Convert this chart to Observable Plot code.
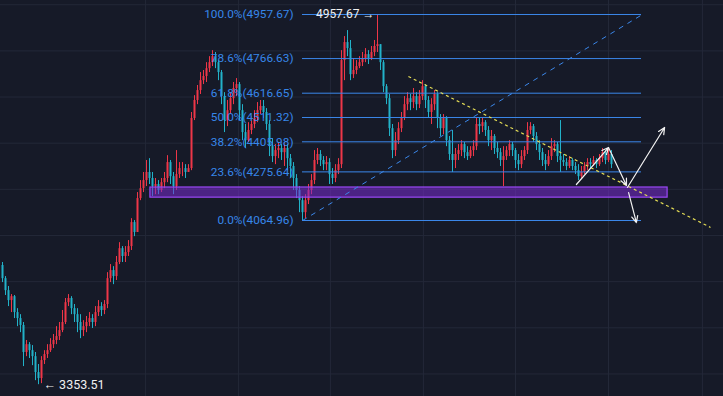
<!DOCTYPE html>
<html>
<head>
<meta charset="utf-8">
<script src="https://cdn.jsdelivr.net/npm/d3@7"></script>
<script src="https://cdn.jsdelivr.net/npm/@observablehq/plot@0.6"></script>
<style>
  html, body { margin: 0; padding: 0; background: #161a28; overflow: hidden; }
  #chart svg { display: block; }
</style>
</head>
<body>
<div id="chart"></div>
<script>
// ---- candle data (index order, open = previous close) ----
const firstOpen = 3870;
const closes = [
  3813,3761,3718,3735,3666,3640,3610,3493,3527,3501,
  3475,3406,3380,3458,3484,3501,3527,3545,3562,3588,
  3623,3709,3727,3683,3657,3623,3588,3605,3623,3640,
  3623,3666,3692,3675,3701,3813,3848,3822,3883,3943,
  3909,3926,3952,4056,4013,4160,4203,4238,4273,4247,
  4212,4221,4195,4229,4247,4316,4255,4212,4264,4290,
  4290,4273,4290,4507,4585,4628,4671,4689,4723,4749,
  4775,4749,4706,4602,4498,4541,4593,4637,4654,4541,
  4446,4411,4455,4481,4507,4541,4559,4533,4481,4385,
  4342,4368,4377,4359,4377,4333,4299,4247,4195,4151,
  4099,4151,4195,4238,4325,4351,4325,4307,4316,4264,
  4247,4281,4307,4758,4836,4810,4697,4715,4732,4749,
  4767,4784,4767,4793,4819,4827,4749,4645,4593,4463,
  4368,4411,4463,4507,4567,4593,4576,4602,4567,4602,
  4645,4585,4533,4567,4611,4507,4463,4507,4411,4351,
  4325,4351,4368,4394,4359,4342,4368,4385,4481,4472,
  4489,4455,4411,4429,4377,4359,4325,4342,4368,4394,
  4368,4325,4307,4342,4368,4455,4472,4429,4394,4359,
  4325,4307,4342,4385,4394,4342,4325,4316,4299,4325,
  4299,4281,4255,4273,4299,4316,4307,4325,4307,4333,
  4359,4325,4351,4307
];
const highs = [
  3883,3822,3779,3744,3740,3683,3657,3623,3545,3536,
  3523,3493,3441,3475,3501,3527,3553,3571,3605,3623,
  3675,3727,3744,3735,3701,3683,3657,3631,3649,3666,
  3657,3692,3718,3709,3718,3839,3874,3865,3909,3969,
  3952,3952,3978,4073,4065,4186,4238,4273,4325,4333,
  4273,4247,4238,4247,4273,4346,4325,4273,4368,4316,
  4316,4307,4307,4533,4606,4650,4706,4715,4749,4775,
  4801,4793,4758,4715,4619,4585,4619,4663,4680,4663,
  4567,4481,4489,4515,4541,4576,4585,4585,4550,4498,
  4420,4394,4403,4394,4403,4394,4351,4316,4264,4212,
  4169,4177,4221,4264,4368,4377,4368,4342,4342,4333,
  4290,4307,4333,4801,4862,4888,4845,4767,4758,4775,
  4793,4810,4801,4819,4845,4957.67,4827,4758,4654,4611,
  4481,4446,4489,4533,4602,4619,4611,4637,4619,4628,
  4671,4654,4602,4593,4628,4619,4524,4524,4515,4429,
  4455,4377,4394,4411,4403,4385,4385,4411,4507,4507,
  4507,4498,4472,4455,4437,4403,4377,4385,4385,4411,
  4403,4377,4351,4368,4385,4489,4489,4481,4446,4411,
  4377,4351,4368,4420,4411,4403,4498,4351,4333,4342,
  4333,4316,4307,4299,4316,4333,4333,4342,4333,4351,
  4377,4368,4377,4368
];
const lows = [
  3796,3740,3692,3666,3640,3605,3579,3432,3475,3467,
  3436,3371,3353.51,3358,3441,3467,3493,3510,3527,3545,
  3579,3614,3692,3657,3623,3579,3553,3562,3579,3605,
  3597,3605,3649,3649,3657,3683,3796,3787,3805,3874,
  3883,3883,3909,3935,3995,4013,4151,4186,4212,4221,
  4169,4177,4177,4186,4203,4229,4221,4177,4195,4247,
  4255,4247,4273,4281,4498,4567,4611,4654,4663,4706,
  4732,4723,4671,4567,4446,4472,4524,4567,4602,4498,
  4411,4377,4403,4437,4463,4489,4524,4507,4455,4342,
  4316,4307,4333,4325,4299,4281,4247,4195,4160,4099,
  4064.96,4073,4134,4177,4221,4307,4299,4281,4281,4221,
  4221,4229,4264,4290,4671,4775,4671,4680,4697,4723,
  4732,4749,4741,4758,4775,4793,4715,4619,4567,4429,
  4333,4342,4394,4446,4498,4541,4541,4550,4541,4550,
  4585,4550,4507,4481,4541,4463,4429,4437,4385,4325,
  4273,4290,4325,4342,4333,4325,4333,4342,4368,4437,
  4446,4429,4385,4368,4351,4333,4299,4212,4325,4342,
  4342,4290,4281,4290,4325,4351,4437,4403,4368,4325,
  4299,4281,4299,4325,4359,4316,4273,4299,4281,4290,
  4281,4264,4238,4247,4264,4281,4290,4299,4290,4299,
  4316,4307,4316,4290
];

// ---- Fibonacci retracement (from low to high) ----
const fibRatios = ["100.0%", "78.6%", "61.8%", "50.0%", "38.2%", "23.6%", "0.0%"];
const fibPrices = [4957.67, 4766.63, 4616.65, 4511.32, 4405.98, 4275.64, 4064.96];
const fibStartIndex = 100;   // candle of the 4064.96 low
const fibEndIndex = 213;

// ---- extreme price labels ----
const highLabel = { index: 125, price: 4957.67, text: "4957.67 →" };
const lowLabel = { index: 12, price: 3353.51, text: "← 3353.51" };

// ---- drawn annotations (index, price) ----
const trendDashed = [{ x1: 100, y1: 4064.96, x2: 213.3, y2: 4957.67 }];
const trendYellow = [{ x1: 135.3, y1: 4689, x2: 236, y2: 4035 }];
const supportZone = [{ x1: 49.3, x2: 221.7, y1: 4164, y2: 4208 }];
const arrowsX1 = [191.3, 202, 208.3, 208.7];
const arrowsY1 = [4221, 4381, 4208, 4186];
const arrowsX2 = [202, 208, 220.7, 211.3];
const arrowsY2 = [4381, 4217, 4468, 4056];

// ---- grid ----
const gridPrices = [3400, 3600, 3800, 4000, 4200, 4400, 4600, 4800, 5000];
const gridIndices = [47.7, 78.7, 109.3, 140.3, 171, 202, 233.3];

// build tables
const candles = closes.map((c, i) => {
  const o = i === 0 ? firstOpen : closes[i - 1];
  return { i, o, c, h: highs[i], l: lows[i], up: c >= o };
});
const fib = fibPrices.map((p, k) => ({ p, label: `${fibRatios[k]}(${p.toFixed(2)})` }));
const arrows = arrowsX1.map((x1, k) => ({ x1, y1: arrowsY1[k], x2: arrowsX2[k], y2: arrowsY2[k] }));

const UP = "#ee3648", DOWN = "#22b2c9";
const color = d => d.up ? UP : DOWN;

const chart = Plot.plot({
  width: 723,
  height: 396,
  margin: 0,
  x: { domain: [-2 / 3, 721 / 3], axis: null },
  y: { domain: [3302.3, 5018.3], axis: null },
  style: { background: "#161a28", fontFamily: "Roboto, sans-serif" },
  marks: [
    Plot.ruleY(gridPrices, { stroke: "#232838", strokeWidth: 1 }),
    Plot.ruleX(gridIndices, { stroke: "#232838", strokeWidth: 1 }),
    // wicks
    Plot.ruleX(candles, { x: "i", y1: "l", y2: "h", stroke: color, strokeWidth: 1 }),
    // bodies
    Plot.ruleX(candles, { x: "i", y1: "o", y2: "c", stroke: color, strokeWidth: 2 }),
    // support zone
    Plot.rect(supportZone, { x1: "x1", x2: "x2", y1: "y1", y2: "y2", fill: "#7a2ccf", fillOpacity: 0.55, stroke: "#9a48f5", strokeWidth: 1.2 }),
    // fib lines
    Plot.ruleY(fib, { y: "p", x1: fibStartIndex, x2: fibEndIndex, stroke: "#3b87ea", strokeWidth: 1 }),
    Plot.text(fib, { x: fibStartIndex, y: "p", text: "label", textAnchor: "end", dx: -9, fill: "#3787ea", fontSize: 11.8 }),
    // dashed diagonal
    Plot.link(trendDashed, { x1: "x1", y1: "y1", x2: "x2", y2: "y2", stroke: "#3b87ea", strokeWidth: 1, strokeDasharray: "5,5" }),
    // yellow dotted trendline
    Plot.link(trendYellow, { x1: "x1", y1: "y1", x2: "x2", y2: "y2", stroke: "#e4dc55", strokeWidth: 1.2, strokeDasharray: "3,3" }),
    // arrows
    Plot.arrow(arrows, { x1: "x1", y1: "y1", x2: "x2", y2: "y2", stroke: "#f2f2f2", strokeWidth: 1.2, headLength: 9, headAngle: 50, bend: 0 }),
    // price labels
    Plot.text([highLabel], { x: "index", y: "price", text: "text", textAnchor: "end", dx: -3, fill: "#f0f0f0", fontSize: 12 }),
    Plot.text([lowLabel], { x: "index", y: "price", text: "text", textAnchor: "start", dx: 5, fill: "#f0f0f0", fontSize: 12.5 })
  ]
});
document.getElementById("chart").appendChild(chart);
</script>
</body>
</html>
